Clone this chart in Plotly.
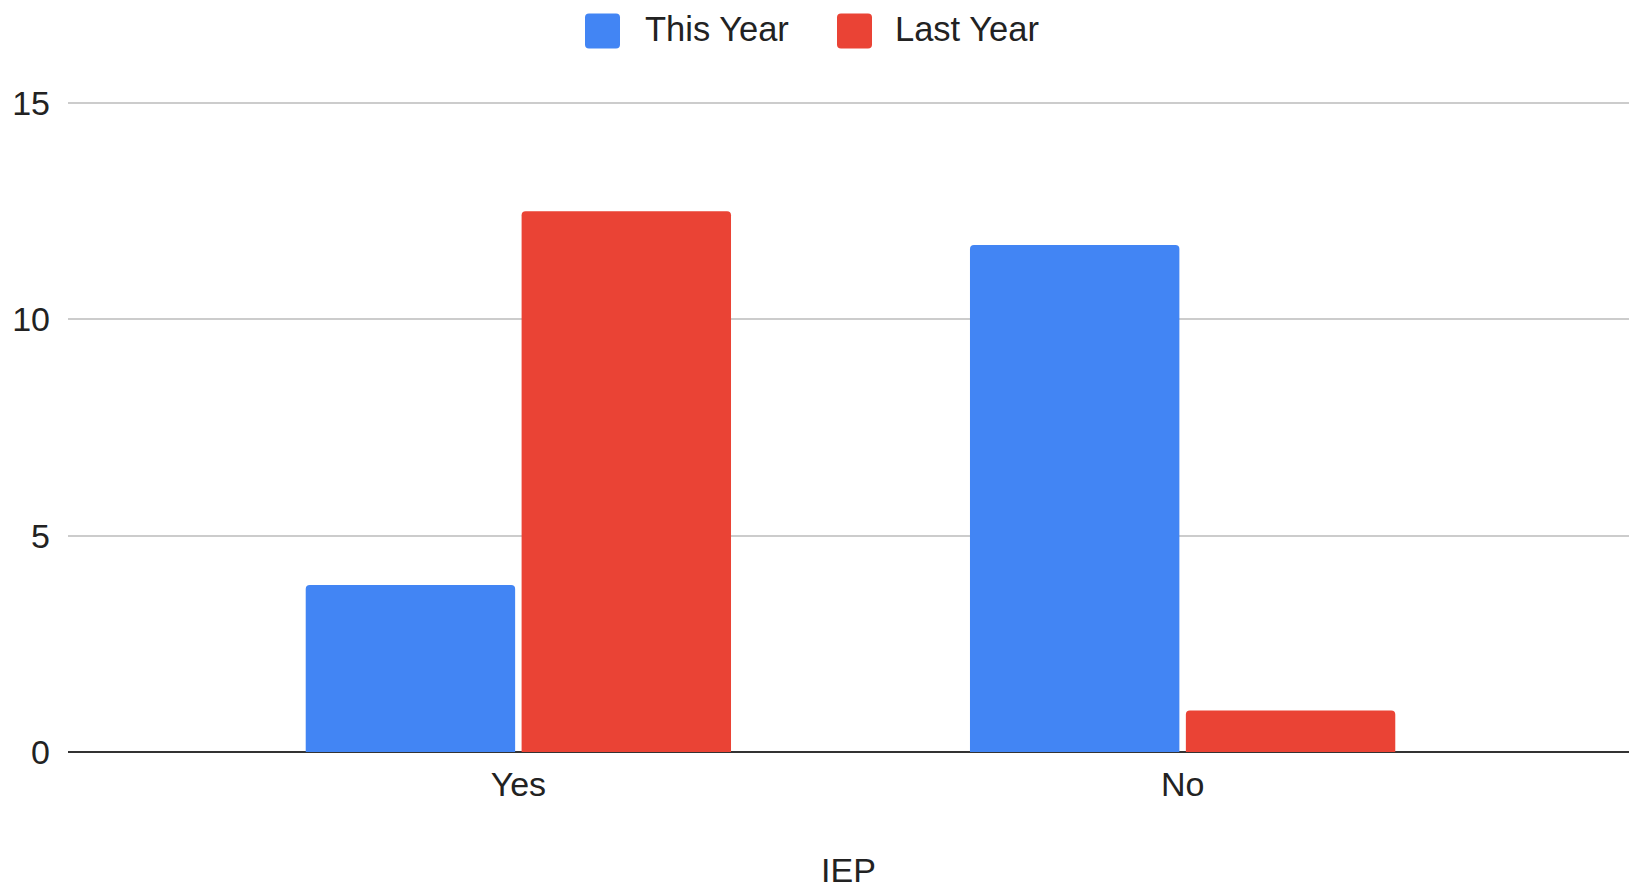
import plotly.graph_objects as go

categories = ["Yes", "No"]
this_year = [3.86, 11.72]
last_year = [12.5, 0.96]
series_names = ["This Year", "Last Year"]
series_colors = ["#4285F4", "#EA4335"]
y_ticks = [0, 5, 10, 15]

FONT = "Liberation Sans, Arial, sans-serif"
W, H = 1629, 889
ML, MR, MT, MB = 68, 0, 100.5, 137.3
PW, PH = W - ML - MR, H - MT - MB


def px_x(px):
    return (px - ML) / PW


def px_y(py):
    return (H - MB - py) / PH


fig = go.Figure()
for name, vals, col in zip(series_names, [this_year, last_year], series_colors):
    fig.add_trace(go.Bar(x=categories, y=vals, name=name, showlegend=False,
                         marker=dict(color=col, line=dict(width=0))))

# custom legend (large rounded swatches like the reference)
legend_swatch_left = [585, 837]
legend_text_left = [643, 893]
shapes = []
annotations = []
r = 4
for name, col, sx, tx in zip(series_names, series_colors, legend_swatch_left, legend_text_left):
    s = 35
    path = (f"M{r},0 L{s - r},0 Q{s},0 {s},{r} L{s},{s - r} Q{s},{s} {s - r},{s} "
            f"L{r},{s} Q0,{s} 0,{s - r} L0,{r} Q0,0 {r},0 Z")
    shapes.append(dict(type="path", xref="paper", yref="paper",
                       xsizemode="pixel", ysizemode="pixel",
                       xanchor=px_x(sx), yanchor=px_y(48),
                       path=path, fillcolor=col, line=dict(width=0)))
    annotations.append(dict(text=name, xref="paper", yref="paper",
                            x=px_x(tx), y=px_y(28.5), xanchor="left", yanchor="middle",
                            showarrow=False, font=dict(size=34.5, color="#222222")))

fig.update_layout(
    width=W, height=H,
    margin=dict(l=ML, r=MR, t=MT, b=MB, pad=0),
    paper_bgcolor="white", plot_bgcolor="white",
    font=dict(family=FONT, size=34, color="#222222"),
    barmode="group", bargap=0.35, bargroupgap=0.03, barcornerradius=4,
    showlegend=False,
    shapes=shapes, annotations=annotations,
    xaxis=dict(range=[-0.678, 1.672], showgrid=False, showline=False,
               ticks="", ticklabelstandoff=9, automargin=False,
               title=dict(text="IEP", standoff=56, font=dict(size=34))),
    yaxis=dict(range=[0, 15.05], tickvals=y_ticks, showgrid=True,
               gridcolor="#cccccc", gridwidth=2, zeroline=True,
               zerolinecolor="#333333", zerolinewidth=2, showline=False,
               ticks="", ticklabelstandoff=17, automargin=False),
)

fig.write_html("out.html", config={"displayModeBar": False},
               post_script="document.body.style.margin='0';document.body.style.overflow='hidden';")
